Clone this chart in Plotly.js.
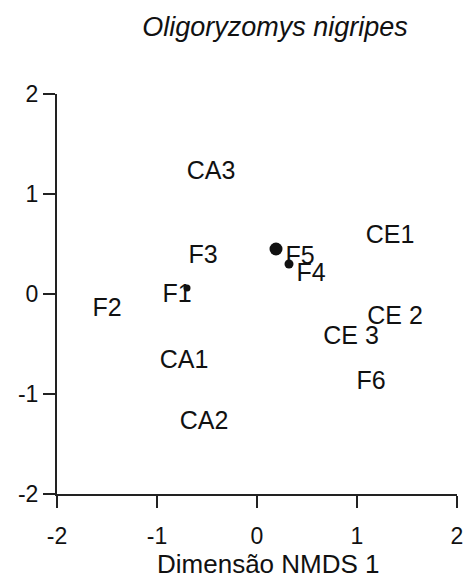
<!DOCTYPE html>
<html>
<head>
<meta charset="utf-8">
<script src="https://cdn.plot.ly/plotly-3.0.1.min.js"></script>
<style>
  html, body { margin: 0; padding: 0; background: #ffffff; }
  #chart { width: 470px; height: 583px; }
</style>
</head>
<body>
<div id="chart"></div>
<script>
// NMDS ordination of sampling sites for Oligoryzomys nigripes
const siteLabels = ['CA3', 'F5', 'F4', 'CE1', 'F3', 'F1', 'CE 2', 'CE 3', 'CA1', 'F6', 'CA2', 'F2'];
const labelX = [-0.46, 0.43, 0.54, 1.33, -0.54, -0.80, 1.38, 0.94, -0.73, 1.14, -0.53, -1.50];
const labelY = [1.21, 0.36, 0.19, 0.57, 0.37, -0.02, -0.24, -0.44, -0.68, -0.89, -1.29, -0.16];

// sites where the species was captured (dot size ~ abundance)
const dotX = [0.19, 0.32, -0.70];
const dotY = [0.45, 0.30, 0.06];
const dotSize = [13, 9, 7];

const tickValues = [-2, -1, 0, 1, 2];
const tickLabels = ['-2', '-1', '0', '1', '2'];

const ink = '#111111';
const fontFamily = '"Liberation Sans", Arial, sans-serif';

const traces = [
  {
    type: 'scatter',
    mode: 'markers',
    x: dotX,
    y: dotY,
    marker: { size: dotSize, color: ink, opacity: 1, line: { width: 0 } },
    hoverinfo: 'skip',
    cliponaxis: false
  },
  {
    type: 'scatter',
    mode: 'text',
    x: labelX,
    y: labelY,
    text: siteLabels,
    textposition: 'middle center',
    textfont: { family: fontFamily, size: 25, color: ink },
    hoverinfo: 'skip',
    cliponaxis: false
  }
];

const axisCommon = {
  range: [-2, 2],
  tickmode: 'array',
  tickvals: tickValues,
  ticktext: tickLabels,
  ticks: 'outside',
  ticklen: 12,
  tickwidth: 2,
  tickcolor: '#222222',
  showline: true,
  linecolor: '#222222',
  linewidth: 2,
  showgrid: false,
  zeroline: false,
  tickfont: { family: fontFamily, size: 23, color: ink },
  fixedrange: true
};

const layout = {
  width: 470,
  height: 583,
  paper_bgcolor: '#ffffff',
  plot_bgcolor: '#ffffff',
  showlegend: false,
  margin: { l: 57, r: 13, t: 94, b: 89, pad: 0 },
  title: {
    text: '<i>Oligoryzomys nigripes</i>',
    font: { family: fontFamily, size: 27, color: ink },
    x: 275 / 470,
    xref: 'container',
    xanchor: 'center',
    y: 1 - 27 / 583,
    yref: 'container',
    yanchor: 'middle'
  },
  xaxis: Object.assign({}, axisCommon, { ticklabelstandoff: 8 }),
  yaxis: Object.assign({}, axisCommon, {}),
  annotations: [
    {
      // x-axis title, set slightly right of the plot centre
      text: 'Dimensão NMDS 1',
      xref: 'paper',
      yref: 'paper',
      x: 0.5275,
      y: -0.175,
      xanchor: 'center',
      yanchor: 'middle',
      showarrow: false,
      font: { family: fontFamily, size: 26, color: ink }
    }
  ]
};

Plotly.newPlot('chart', traces, layout, { displayModeBar: false, staticPlot: true });
</script>
</body>
</html>
